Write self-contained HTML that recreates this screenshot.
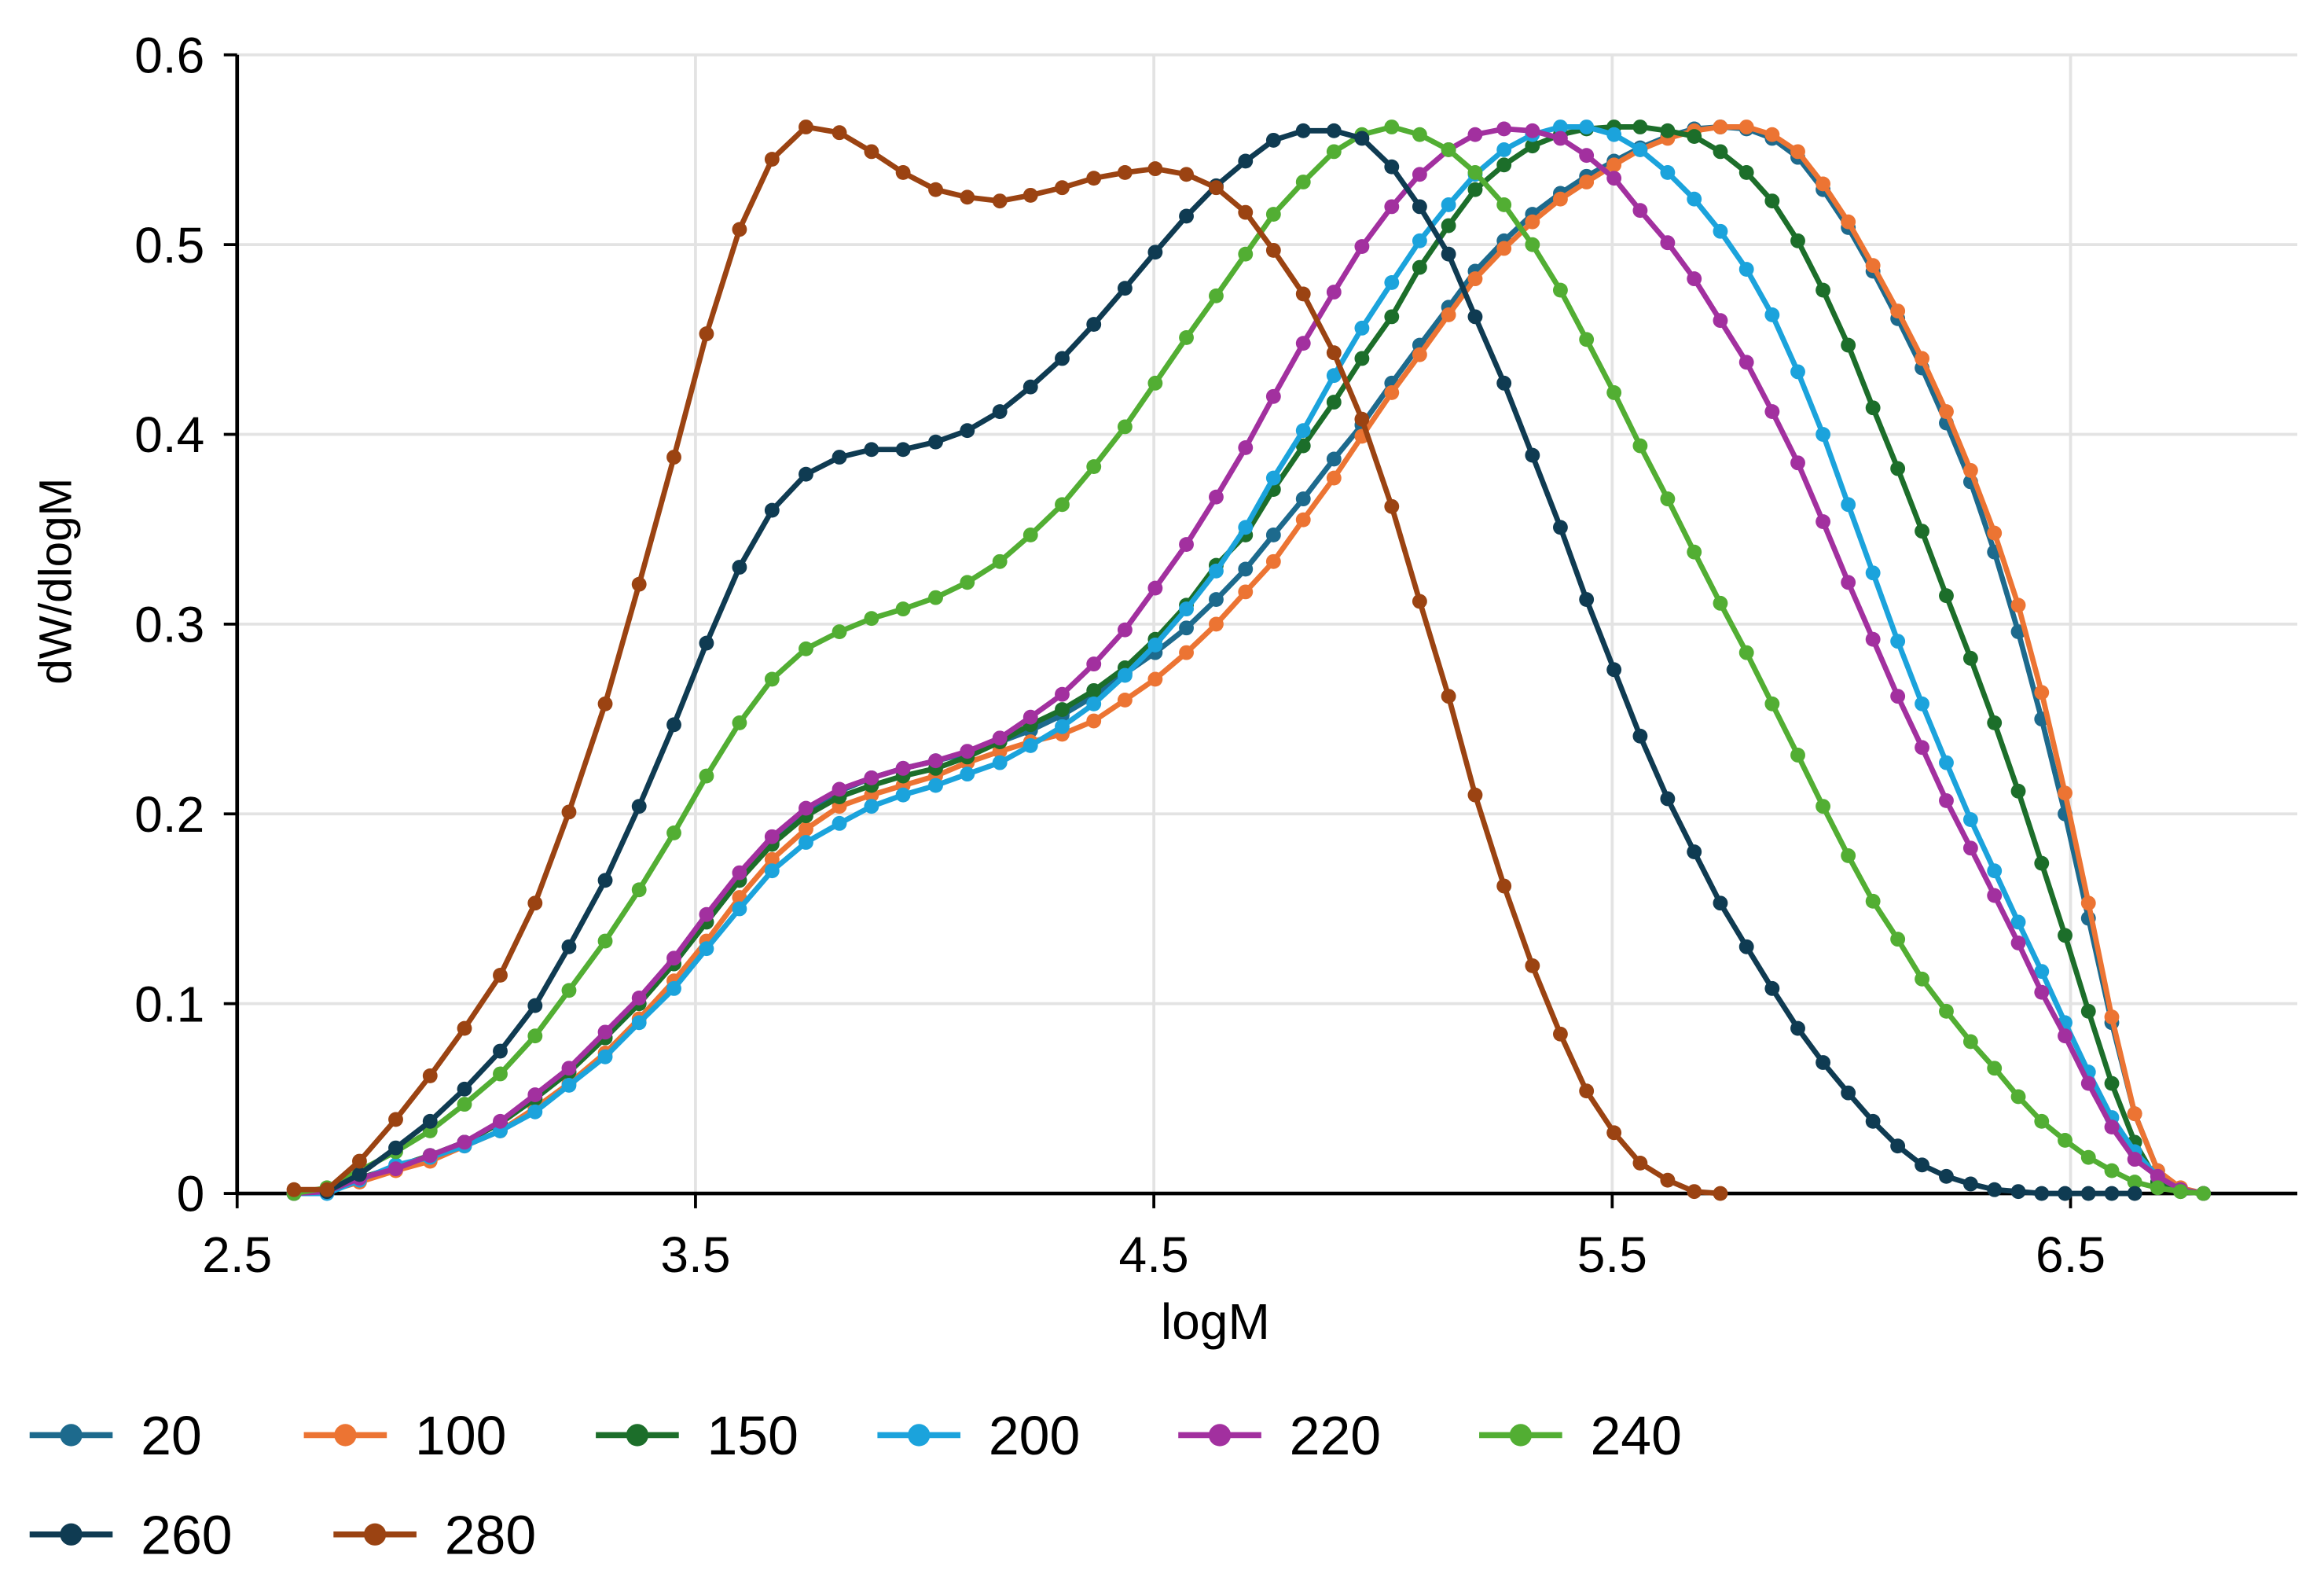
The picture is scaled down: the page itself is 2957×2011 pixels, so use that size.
<!DOCTYPE html>
<html><head><meta charset="utf-8"><style>
html,body{margin:0;padding:0;background:#fff;}
svg{display:block;font-family:"Liberation Sans",sans-serif;}
</style></head><body>
<svg id="chart" width="2957" height="2011" viewBox="0 0 1568 1066.4" preserveAspectRatio="none" xmlns="http://www.w3.org/2000/svg">
<g id="grid"></g>
<g id="axes"></g>
<g id="series"></g>
<g id="legend"></g>
</svg>
<script>
const xTicks = [2.5, 3.5, 4.5, 5.5, 6.5];
const xTickLabels = ["2.5", "3.5", "4.5", "5.5", "6.5"];
const yTicks = [0, 0.1, 0.2, 0.3, 0.4, 0.5, 0.6];
const yTickLabels = ["0", "0.1", "0.2", "0.3", "0.4", "0.5", "0.6"];
const logM = [2.624,2.696,2.767,2.846,2.921,2.996,3.074,3.150,3.224,3.303,3.377,3.453,3.524,3.596,3.667,3.741,3.814,3.884,3.953,4.024,4.093,4.164,4.231,4.300,4.369,4.437,4.503,4.571,4.636,4.700,4.761,4.826,4.893,4.954,5.019,5.080,5.143,5.201,5.264,5.326,5.387,5.444,5.504,5.561,5.621,5.679,5.736,5.793,5.849,5.905,5.960,6.015,6.069,6.123,6.176,6.229,6.282,6.334,6.386,6.437,6.488,6.539,6.590,6.640,6.690,6.740,6.790];
const seriesNames = ["20","100","150","200","220","240","260","280"];
const seriesColors = ["#1d6a8d","#ec7433","#1c6e2a","#1ba3dc","#a2309f","#52ae33","#0f3b52","#9b4312"];
const seriesStart = [0,0,0,0,0,0,1,0];
const y20 = [0,0.001,0.008,0.014,0.020,0.027,0.037,0.050,0.064,0.082,0.100,0.121,0.143,0.165,0.185,0.201,0.212,0.219,0.224,0.228,0.232,0.238,0.244,0.252,0.262,0.274,0.285,0.298,0.313,0.329,0.347,0.366,0.387,0.405,0.427,0.447,0.467,0.486,0.502,0.516,0.527,0.536,0.544,0.551,0.557,0.561,0.562,0.561,0.556,0.546,0.529,0.509,0.486,0.461,0.435,0.406,0.375,0.338,0.296,0.250,0.200,0.145,0.090,0.042,0.012,0.002,0];
const y100 = [0,0.001,0.006,0.012,0.017,0.025,0.033,0.045,0.058,0.074,0.092,0.112,0.133,0.156,0.176,0.192,0.204,0.210,0.215,0.220,0.227,0.233,0.238,0.242,0.249,0.260,0.271,0.285,0.300,0.317,0.333,0.355,0.377,0.399,0.422,0.442,0.463,0.482,0.498,0.512,0.524,0.533,0.542,0.550,0.556,0.560,0.562,0.562,0.558,0.549,0.532,0.512,0.489,0.465,0.440,0.412,0.381,0.348,0.310,0.264,0.211,0.153,0.093,0.042,0.012,0.003,0];
const y150 = [0,0.001,0.008,0.014,0.020,0.027,0.037,0.050,0.064,0.082,0.100,0.121,0.143,0.165,0.184,0.199,0.209,0.215,0.220,0.224,0.230,0.238,0.247,0.255,0.265,0.277,0.292,0.310,0.331,0.347,0.371,0.394,0.417,0.440,0.462,0.488,0.510,0.529,0.542,0.552,0.558,0.561,0.562,0.562,0.560,0.557,0.549,0.538,0.523,0.502,0.476,0.447,0.414,0.382,0.349,0.315,0.282,0.248,0.212,0.174,0.136,0.096,0.058,0.027,0.006,0.001,0];
const y200 = [0,0,0.007,0.015,0.019,0.025,0.033,0.043,0.057,0.072,0.090,0.108,0.129,0.150,0.170,0.185,0.195,0.204,0.210,0.215,0.221,0.227,0.236,0.246,0.258,0.273,0.289,0.308,0.328,0.351,0.377,0.402,0.431,0.456,0.480,0.502,0.521,0.537,0.550,0.558,0.562,0.562,0.558,0.550,0.538,0.524,0.507,0.487,0.463,0.433,0.400,0.363,0.327,0.291,0.258,0.227,0.197,0.170,0.143,0.117,0.090,0.064,0.040,0.022,0.009,0.002,0];
const y220 = [0,0.001,0.008,0.013,0.020,0.027,0.038,0.052,0.066,0.085,0.103,0.124,0.147,0.169,0.188,0.203,0.213,0.219,0.224,0.228,0.233,0.240,0.251,0.263,0.279,0.297,0.319,0.342,0.367,0.393,0.420,0.448,0.475,0.499,0.520,0.537,0.550,0.558,0.561,0.560,0.556,0.547,0.535,0.518,0.501,0.482,0.460,0.438,0.412,0.385,0.354,0.322,0.292,0.262,0.235,0.207,0.182,0.157,0.132,0.106,0.083,0.058,0.035,0.018,0.009,0.002,0];
const y240 = [0,0.003,0.012,0.022,0.033,0.047,0.063,0.083,0.107,0.133,0.160,0.190,0.220,0.248,0.271,0.287,0.296,0.303,0.308,0.314,0.322,0.333,0.347,0.363,0.383,0.404,0.427,0.451,0.473,0.495,0.516,0.533,0.549,0.558,0.562,0.558,0.550,0.538,0.521,0.500,0.476,0.450,0.422,0.394,0.366,0.338,0.311,0.285,0.258,0.231,0.204,0.178,0.154,0.134,0.113,0.096,0.080,0.066,0.051,0.038,0.028,0.019,0.012,0.006,0.003,0.001,0];
const y260 = [0.001,0.010,0.024,0.038,0.055,0.075,0.099,0.130,0.165,0.204,0.247,0.290,0.330,0.360,0.379,0.388,0.392,0.392,0.396,0.402,0.412,0.425,0.440,0.458,0.477,0.496,0.515,0.531,0.544,0.555,0.560,0.560,0.556,0.541,0.520,0.495,0.462,0.427,0.389,0.351,0.313,0.276,0.241,0.208,0.180,0.153,0.130,0.108,0.087,0.069,0.053,0.038,0.025,0.015,0.009,0.005,0.002,0.001,0,0,0,0,0];
const y280 = [0.002,0.002,0.017,0.039,0.062,0.087,0.115,0.153,0.201,0.258,0.321,0.388,0.453,0.508,0.545,0.562,0.559,0.549,0.538,0.529,0.525,0.523,0.526,0.530,0.535,0.538,0.540,0.537,0.530,0.517,0.497,0.474,0.443,0.408,0.362,0.312,0.262,0.210,0.162,0.120,0.084,0.054,0.032,0.016,0.007,0.001,0];
const seriesValues = [y20,y100,y150,y200,y220,y240,y260,y280];

const NS = "http://www.w3.org/2000/svg";
const X0 = 160, X1 = 1397, Y0 = 805, Y1 = 37;
function xs(v){ return X0 + (v - 2.5) / 4 * (X1 - X0); }
function ys(v){ return Y0 - v / 0.6 * (Y0 - Y1); }
function mk(tag, attrs, parent){ const e = document.createElementNS(NS, tag); for (const k in attrs) e.setAttribute(k, attrs[k]); parent.appendChild(e); return e; }

const grid = document.getElementById('grid');
const axes = document.getElementById('axes');
const series = document.getElementById('series');
const legend = document.getElementById('legend');

yTicks.forEach((t, i) => {
  if (t > 0) {
    const g = mk('line', {x1: X0, x2: 1550, y1: ys(t), y2: ys(t), stroke: '#e3e3e3', 'stroke-width': 2}, grid);
    
    
  }
  const tk = mk('line', {x1: X0 - 9, x2: X0, y1: ys(t), y2: ys(t), stroke: '#000', 'stroke-width': 2}, axes);
  
  
  const lb = mk('text', {x: X0 - 22, y: ys(t) + 12, 'text-anchor': 'end', 'font-size': 34, fill: '#000'}, axes);
  lb.textContent = yTickLabels[i];
  
  
});
xTicks.forEach((t, i) => {
  if (t > 2.5) {
    const g = mk('line', {x1: xs(t), x2: xs(t), y1: Y1, y2: Y0, stroke: '#e3e3e3', 'stroke-width': 2}, grid);
    
    
  }
  const tk = mk('line', {x1: xs(t), x2: xs(t), y1: Y0, y2: Y0 + 10, stroke: '#000', 'stroke-width': 2}, axes);
  
  
  const lb = mk('text', {x: xs(t), y: 858, 'text-anchor': 'middle', 'font-size': 34, fill: '#000'}, axes);
  lb.textContent = xTickLabels[i];
  
  
});
const xa = mk('line', {x1: X0, x2: 1550, y1: Y0, y2: Y0, stroke: '#000', 'stroke-width': 2.5}, axes);


const ya = mk('line', {x1: X0, x2: X0, y1: Y1, y2: Y0, stroke: '#000', 'stroke-width': 2.5}, axes);


const xt = mk('text', {x: 820, y: 903, 'text-anchor': 'middle', 'font-size': 34, fill: '#000'}, axes);
xt.textContent = 'logM';


const yt = mk('text', {x: 0, y: 0, 'text-anchor': 'middle', 'font-size': 31, fill: '#000', transform: 'translate(48,392) rotate(-90)'}, axes);
yt.textContent = 'dW/dlogM';



seriesValues.forEach((vals, si) => {
  const g = mk('g', {}, series);
  
  
  const pts = vals.map((v, j) => xs(logM[seriesStart[si] + j]).toFixed(1) + ',' + ys(v).toFixed(1)).join(' ');
  const pl = mk('polyline', {points: pts, fill: 'none', stroke: seriesColors[si], 'stroke-width': 3.6, 'stroke-linejoin': 'round'}, g);
  
  
  vals.forEach((v, j) => {
    const c = mk('circle', {cx: xs(logM[seriesStart[si] + j]), cy: ys(v), r: 5, fill: seriesColors[si]}, g);
    
    
  });
});

const legX = [20, 205, 402, 592, 795, 998, 20, 225];
const legY = [968, 968, 968, 968, 968, 968, 1035, 1035];
seriesNames.forEach((n, i) => {
  const g = mk('g', {}, legend);
  
  
  mk('line', {x1: legX[i], x2: legX[i] + 56, y1: legY[i], y2: legY[i], stroke: seriesColors[i], 'stroke-width': 4}, g);
  mk('circle', {cx: legX[i] + 28, cy: legY[i], r: 7.5, fill: seriesColors[i]}, g);
  const t = mk('text', {x: legX[i] + 75, y: legY[i] + 13, 'font-size': 37, fill: '#000'}, g);
  t.textContent = n;
});
</script>
</body></html>
